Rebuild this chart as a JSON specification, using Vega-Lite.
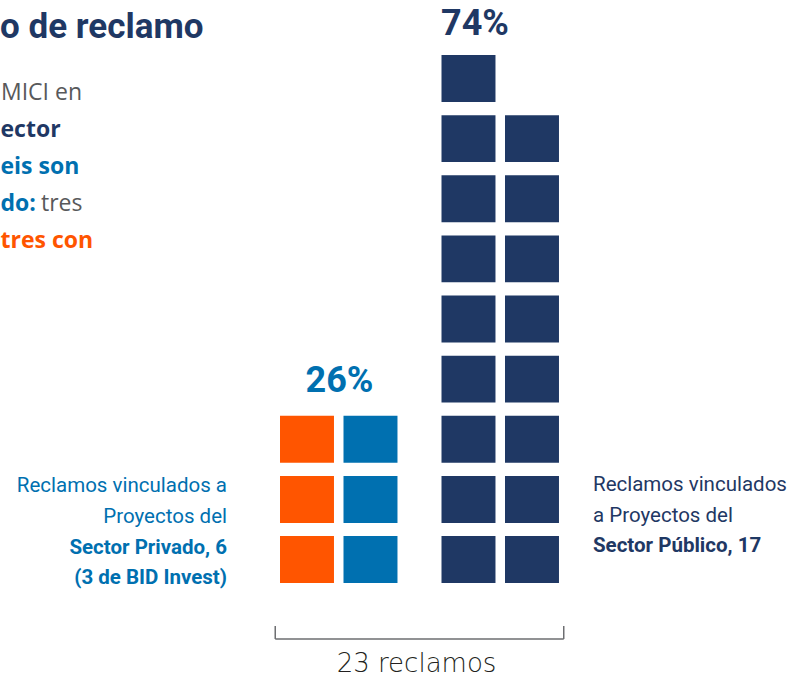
{
  "$schema": "https://vega.github.io/schema/vega-lite/v6.json",
  "width": 801,
  "height": 677,
  "padding": 0,
  "autosize": {"type": "none"},
  "background": "white",
  "config": {"view": {"stroke": null}},
  "layer": [
    {
      "data": {"values": [
        {"sector": "Privado", "col": 1, "row": 1, "tipo": "BID Invest"},
        {"sector": "Privado", "col": 1, "row": 2, "tipo": "BID Invest"},
        {"sector": "Privado", "col": 1, "row": 3, "tipo": "BID Invest"},
        {"sector": "Privado", "col": 2, "row": 1, "tipo": "BID sin garantía soberana"},
        {"sector": "Privado", "col": 2, "row": 2, "tipo": "BID sin garantía soberana"},
        {"sector": "Privado", "col": 2, "row": 3, "tipo": "BID sin garantía soberana"},
        {"sector": "Público", "col": 1, "row": 1, "tipo": "Sector público"},
        {"sector": "Público", "col": 1, "row": 2, "tipo": "Sector público"},
        {"sector": "Público", "col": 1, "row": 3, "tipo": "Sector público"},
        {"sector": "Público", "col": 1, "row": 4, "tipo": "Sector público"},
        {"sector": "Público", "col": 1, "row": 5, "tipo": "Sector público"},
        {"sector": "Público", "col": 1, "row": 6, "tipo": "Sector público"},
        {"sector": "Público", "col": 1, "row": 7, "tipo": "Sector público"},
        {"sector": "Público", "col": 1, "row": 8, "tipo": "Sector público"},
        {"sector": "Público", "col": 1, "row": 9, "tipo": "Sector público"},
        {"sector": "Público", "col": 2, "row": 1, "tipo": "Sector público"},
        {"sector": "Público", "col": 2, "row": 2, "tipo": "Sector público"},
        {"sector": "Público", "col": 2, "row": 3, "tipo": "Sector público"},
        {"sector": "Público", "col": 2, "row": 4, "tipo": "Sector público"},
        {"sector": "Público", "col": 2, "row": 5, "tipo": "Sector público"},
        {"sector": "Público", "col": 2, "row": 6, "tipo": "Sector público"},
        {"sector": "Público", "col": 2, "row": 7, "tipo": "Sector público"},
        {"sector": "Público", "col": 2, "row": 8, "tipo": "Sector público"}
      ]},
      "mark": {"type": "rect"},
      "encoding": {
        "x": {"field": "sector", "type": "nominal", "axis": null,
              "scale": {"domain": ["Privado", "Público"], "range": [275.24, 563.74], "paddingInner": 0.213622, "paddingOuter": 0}},
        "xOffset": {"field": "col", "type": "ordinal",
              "scale": {"domain": [1, 2], "paddingInner": 0.15, "paddingOuter": 0.075}},
        "y": {"field": "row", "type": "ordinal", "axis": null,
              "scale": {"domain": [9, 8, 7, 6, 5, 4, 3, 2, 1], "range": [55, 583], "paddingInner": 0.2183, "paddingOuter": 0}},
        "color": {"field": "tipo", "type": "nominal", "legend": null,
              "scale": {"domain": ["BID Invest", "BID sin garantía soberana", "Sector público"], "range": ["#FF5500", "#0070B0", "#1F3864"]}}
      }
    },
    {
      "data": {"values": [{}]},
      "mark": {"type": "text", "text": "o de reclamo", "font": "Roboto", "fontSize": 35, "fontWeight": "bold", "color": "#1F3864", "align": "left", "baseline": "alphabetic", "dx": -338.74, "dy": -40.5},
      "encoding": {"x": {"datum": "Privado", "type": "nominal"}, "y": {"datum": 9, "type": "ordinal"}}
    },
    {
      "data": {"values": [{}]},
      "mark": {"type": "text", "text": "MICI en", "font": "Open Sans", "fontSize": 23, "color": "#58595B", "align": "left", "baseline": "alphabetic", "dx": -337.74, "dy": 21.5},
      "encoding": {"x": {"datum": "Privado", "type": "nominal"}, "y": {"datum": 9, "type": "ordinal"}}
    },
    {
      "data": {"values": [{}]},
      "mark": {"type": "text", "text": "ector", "font": "Open Sans", "fontSize": 23, "fontWeight": "bold", "color": "#1F3864", "align": "left", "baseline": "alphabetic", "dx": -338.24, "dy": 58.5},
      "encoding": {"x": {"datum": "Privado", "type": "nominal"}, "y": {"datum": 9, "type": "ordinal"}}
    },
    {
      "data": {"values": [{}]},
      "mark": {"type": "text", "text": "eis son", "font": "Open Sans", "fontSize": 23, "fontWeight": "bold", "color": "#0070B0", "align": "left", "baseline": "alphabetic", "dx": -338.24, "dy": 95.5},
      "encoding": {"x": {"datum": "Privado", "type": "nominal"}, "y": {"datum": 9, "type": "ordinal"}}
    },
    {
      "data": {"values": [{}]},
      "mark": {"type": "text", "text": "do:", "font": "Open Sans", "fontSize": 23, "fontWeight": "bold", "color": "#0070B0", "align": "left", "baseline": "alphabetic", "dx": -338.24, "dy": 132.5},
      "encoding": {"x": {"datum": "Privado", "type": "nominal"}, "y": {"datum": 9, "type": "ordinal"}}
    },
    {
      "data": {"values": [{}]},
      "mark": {"type": "text", "text": "tres", "font": "Open Sans", "fontSize": 23, "color": "#58595B", "align": "left", "baseline": "alphabetic", "dx": -297.74, "dy": 132.5},
      "encoding": {"x": {"datum": "Privado", "type": "nominal"}, "y": {"datum": 9, "type": "ordinal"}}
    },
    {
      "data": {"values": [{}]},
      "mark": {"type": "text", "text": "tres con", "font": "Open Sans", "fontSize": 23, "fontWeight": "bold", "color": "#FF5500", "align": "left", "baseline": "alphabetic", "dx": -338.24, "dy": 169.5},
      "encoding": {"x": {"datum": "Privado", "type": "nominal"}, "y": {"datum": 9, "type": "ordinal"}}
    },
    {
      "data": {"values": [{}]},
      "mark": {"type": "text", "text": "74%", "font": "Roboto", "fontSize": 36, "fontWeight": "bold", "color": "#1F3864", "align": "center", "baseline": "alphabetic", "dx": -25.24, "dy": -43.5},
      "encoding": {"x": {"datum": "Público", "type": "nominal"}, "y": {"datum": 9, "type": "ordinal"}}
    },
    {
      "data": {"values": [{}]},
      "mark": {"type": "text", "text": "26%", "font": "Roboto", "fontSize": 36, "fontWeight": "bold", "color": "#0070B0", "align": "center", "baseline": "alphabetic", "dx": 0.76, "dy": -47.25},
      "encoding": {"x": {"datum": "Privado", "type": "nominal"}, "y": {"datum": 3, "type": "ordinal"}}
    },
    {
      "data": {"values": [{}]},
      "mark": {"type": "text", "text": ["Reclamos vinculados a", "Proyectos del"], "lineHeight": 31, "font": "Roboto", "fontSize": 20.5, "color": "#0070B0", "align": "right", "baseline": "alphabetic", "dx": -111.74, "dy": -67.5},
      "encoding": {"x": {"datum": "Privado", "type": "nominal"}, "y": {"datum": 1, "type": "ordinal"}}
    },
    {
      "data": {"values": [{}]},
      "mark": {"type": "text", "text": ["Sector Privado, 6", "(3 de BID Invest)"], "lineHeight": 30, "font": "Roboto", "fontSize": 20.5, "fontWeight": "bold", "color": "#0070B0", "align": "right", "baseline": "alphabetic", "dx": -111.74, "dy": -5.5},
      "encoding": {"x": {"datum": "Privado", "type": "nominal"}, "y": {"datum": 1, "type": "ordinal"}}
    },
    {
      "data": {"values": [{}]},
      "mark": {"type": "text", "text": ["Reclamos vinculados", "a Proyectos del"], "lineHeight": 31, "font": "Roboto", "fontSize": 20.5, "color": "#1F3864", "align": "left", "baseline": "alphabetic", "dx": 92.76, "dy": -68.5},
      "encoding": {"x": {"datum": "Público", "type": "nominal"}, "y": {"datum": 1, "type": "ordinal"}}
    },
    {
      "data": {"values": [{}]},
      "mark": {"type": "text", "text": "Sector Público, 17", "font": "Roboto", "fontSize": 20.5, "fontWeight": "bold", "color": "#1F3864", "align": "left", "baseline": "alphabetic", "dx": 92.76, "dy": -7.5},
      "encoding": {"x": {"datum": "Público", "type": "nominal"}, "y": {"datum": 1, "type": "ordinal"}}
    },
    {
      "data": {"values": [{}]},
      "mark": {"type": "rule", "color": "#6D6E71", "strokeWidth": 1.5},
      "encoding": {
        "x": {"datum": "Privado", "type": "nominal", "bandPosition": 0},
        "x2": {"datum": "Público", "bandPosition": 1},
        "y": {"datum": 1, "type": "ordinal", "bandPosition": 2.1915}
      }
    },
    {
      "data": {"values": [{}]},
      "mark": {"type": "rule", "color": "#6D6E71", "strokeWidth": 1.5},
      "encoding": {
        "x": {"datum": "Privado", "type": "nominal", "bandPosition": 0},
        "y": {"datum": 1, "type": "ordinal", "bandPosition": 1.915},
        "y2": {"datum": 1, "bandPosition": 2.1915}
      }
    },
    {
      "data": {"values": [{}]},
      "mark": {"type": "rule", "color": "#6D6E71", "strokeWidth": 1.5},
      "encoding": {
        "x": {"datum": "Público", "type": "nominal", "bandPosition": 1},
        "y": {"datum": 1, "type": "ordinal", "bandPosition": 1.915},
        "y2": {"datum": 1, "bandPosition": 2.1915}
      }
    },
    {
      "data": {"values": [{}]},
      "mark": {"type": "text", "text": "23 reclamos", "font": "DejaVu Sans", "fontSize": 26, "fontWeight": 200, "color": "#231F20", "align": "center", "baseline": "alphabetic", "dx": 77.76, "dy": 112.5},
      "encoding": {"x": {"datum": "Privado", "type": "nominal"}, "y": {"datum": 1, "type": "ordinal"}}
    }
  ]
}
